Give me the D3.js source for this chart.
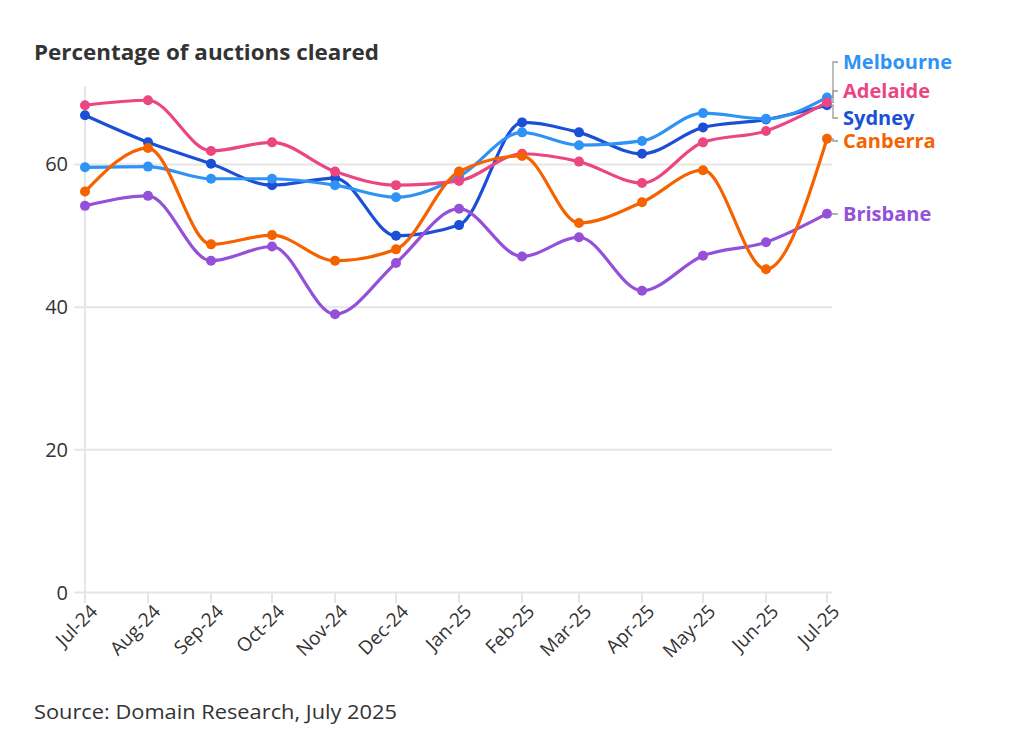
<!DOCTYPE html>
<html>
<head>
<meta charset="utf-8">
<script src="https://cdn.jsdelivr.net/npm/d3@7"></script>
<style>
  html, body { margin: 0; padding: 0; background: #fff; }
  svg { display: block; font-family: "Open Sans", Lato, sans-serif; }
</style>
</head>
<body>
<svg id="chart" width="1024" height="745"></svg>
<script>
const months = ["2024-07-01","2024-08-01","2024-09-01","2024-10-01","2024-11-01","2024-12-01",
  "2025-01-01","2025-02-01","2025-03-01","2025-04-01","2025-05-01","2025-06-01","2025-07-01"];
const monthLabels = ["Jul-24","Aug-24","Sep-24","Oct-24","Nov-24","Dec-24","Jan-25","Feb-25","Mar-25","Apr-25","May-25","Jun-25","Jul-25"];
const sydney    = [66.9, 63.1, 60.1, 57.1, 58.1, 50.0, 51.5, 65.9, 64.5, 61.5, 65.2, 66.3, 68.3];
const melbourne = [59.6, 59.7, 58.0, 58.0, 57.1, 55.4, 58.3, 64.5, 62.7, 63.3, 67.2, 66.4, 69.4];
const brisbane  = [54.2, 55.6, 46.5, 48.5, 39.0, 46.2, 53.8, 47.1, 49.8, 42.3, 47.2, 49.1, 53.1];
const adelaide  = [68.3, 69.0, 61.9, 63.1, 59.0, 57.1, 57.7, 61.5, 60.4, 57.4, 63.1, 64.7, 68.7];
const canberra  = [56.2, 62.3, 48.8, 50.1, 46.5, 48.1, 59.0, 61.2, 51.8, 54.7, 59.2, 45.3, 63.6];
const yTicks = [0, 20, 40, 60];
const title = "Percentage of auctions cleared";
const source = "Source: Domain Research, July 2025";

const series = [
  {name: "Sydney",    values: sydney,    color: "#1a4fd6", labelY: 118},
  {name: "Melbourne", values: melbourne, color: "#2f93f5", labelY: 62},
  {name: "Brisbane",  values: brisbane,  color: "#9450d9", labelY: 214},
  {name: "Adelaide",  values: adelaide,  color: "#ec4682", labelY: 91},
  {name: "Canberra",  values: canberra,  color: "#f56200", labelY: 141}
];

const parse = d3.timeParse("%Y-%m-%d");
const dates = months.map(parse);

const svg = d3.select("#chart");
const x = d3.scaleTime().domain([dates[0], dates[dates.length - 1]]).range([85, 827]);
const y = d3.scaleLinear().domain([0, 71]).range([592.5, 86]);

// title
svg.append("text").attr("x", 34).attr("y", 60)
  .attr("font-size", 20.5).attr("font-weight", 700).attr("fill", "#333")
  .attr("textLength", 345).attr("lengthAdjust", "spacingAndGlyphs")
  .text(title);

// gridlines
const g = svg.append("g");
g.selectAll("line.grid").data(yTicks).join("line")
  .attr("x1", 74).attr("x2", 832)
  .attr("y1", d => y(d)).attr("y2", d => y(d))
  .attr("stroke", "#e6e6e6").attr("stroke-width", 2);
g.selectAll("text.ytick").data(yTicks).join("text")
  .attr("x", 68).attr("y", d => y(d)).attr("dy", "0.35em")
  .attr("text-anchor", "end").attr("font-size", 20).attr("fill", "#333")
  .text(d => d);

// y axis line
g.append("line").attr("x1", 85).attr("x2", 85).attr("y1", y(71)).attr("y2", 603)
  .attr("stroke", "#e6e6e6").attr("stroke-width", 2);

// x ticks
const xt = g.selectAll("g.xtick").data(dates).join("g")
  .attr("transform", d => `translate(${x(d)},0)`);
xt.append("line").attr("y1", 592).attr("y2", 603).attr("stroke", "#e6e6e6").attr("stroke-width", 2);
xt.append("text")
  .attr("transform", "translate(9,608) rotate(-45)")
  .attr("text-anchor", "end").attr("dy", "0.35em")
  .attr("font-size", 19).attr("fill", "#333")
  .text((d, i) => monthLabels[i]);

// lines
const line = d3.line().x((d, i) => x(dates[i])).y(d => y(d)).curve(d3.curveMonotoneX);
const lg = svg.append("g");
series.forEach(s => {
  const sg = lg.append("g");
  sg.append("path").datum(s.values).attr("d", line)
    .attr("fill", "none").attr("stroke", s.color).attr("stroke-width", 3.2)
    .attr("stroke-linejoin", "round");
  sg.selectAll("circle").data(s.values).join("circle")
    .attr("cx", (d, i) => x(dates[i])).attr("cy", d => y(d)).attr("r", 5)
    .attr("fill", s.color);
});

// connectors and labels
const last = dates.length - 1;
series.forEach(s => {
  const py = y(s.values[last]);
  const px = x(dates[last]);
  svg.append("path")
    .attr("d", `M${px + 4},${py} H833 V${s.labelY} H838`)
    .attr("fill", "none").attr("stroke", "#9a9a9a").attr("stroke-width", 1.3);
  svg.append("text").attr("x", 843).attr("y", s.labelY).attr("dy", "0.36em")
    .attr("font-size", 20).attr("font-weight", 700).attr("fill", s.color)
    .text(s.name);
});

// source
svg.append("text").attr("x", 34).attr("y", 719)
  .attr("font-size", 20.5).attr("fill", "#333")
  .attr("textLength", 363).attr("lengthAdjust", "spacingAndGlyphs")
  .text(source);
</script>
</body>
</html>
